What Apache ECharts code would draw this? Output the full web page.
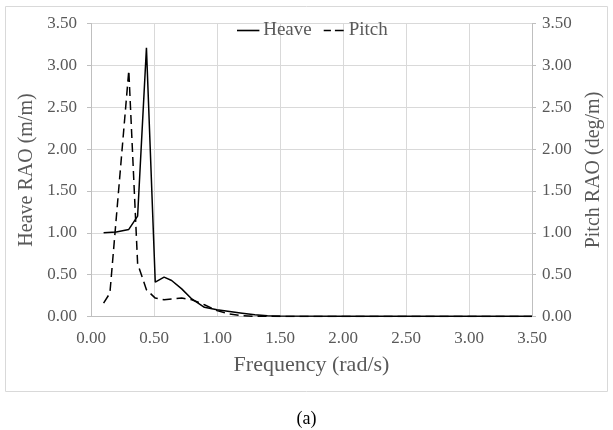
<!DOCTYPE html>
<html>
<head>
<meta charset="utf-8">
<script src="https://cdn.jsdelivr.net/npm/echarts@6/dist/echarts.min.js"></script>
<style>
html,body{margin:0;padding:0;background:#fff;}
#chart{width:613px;height:430px;}
</style>
</head>
<body>
<div id="chart"></div>
<script>
var heaveFreq = [0.10, 0.20, 0.30, 0.37, 0.44, 0.51, 0.58, 0.64, 0.72, 0.80, 0.90, 1.00, 1.10, 1.20, 1.30, 1.40, 1.50, 2.00, 2.50, 3.00, 3.50];
var heaveRAO  = [1.00, 1.01, 1.04, 1.20, 3.21, 0.41, 0.47, 0.43, 0.33, 0.21, 0.11, 0.08, 0.06, 0.04, 0.02, 0.01, 0.006, 0.004, 0.003, 0.002, 0.002];
var pitchFreq = [0.10, 0.15, 0.30, 0.37, 0.44, 0.51, 0.58, 0.65, 0.72, 0.80, 0.90, 1.00, 1.10, 1.20, 1.30, 1.50, 2.00, 2.50, 3.00, 3.50];
var pitchRAO  = [0.16, 0.28, 2.94, 0.63, 0.32, 0.22, 0.20, 0.21, 0.22, 0.20, 0.14, 0.07, 0.03, 0.01, 0.003, 0.001, 0.0, 0.0, 0.0, 0.0];
var xLabel = 'Frequency (rad/s)';
var yLeftLabel = 'Heave RAO (m/m)';
var yRightLabel = 'Pitch RAO (deg/m)';
var seriesNames = ['Heave', 'Pitch'];
var caption = '(a)';

function pairs(xs, ys){ return xs.map(function(x,i){ return [x, ys[i]]; }); }

var FONT = '"Liberation Serif", "Times New Roman", serif';
var GRAY = '#595959';
var chart = echarts.init(document.getElementById('chart'), null, {renderer:'canvas'});
var fmt = function(v){ return v.toFixed(2); };
var axisCommon = {
  min: 0, max: 3.5, interval: 0.5,
  axisLine: {show: true, lineStyle: {color: '#bfbfbf', width: 1}},
  axisTick: {show: true, length: 4, lineStyle: {color: '#bfbfbf'}},
  axisLabel: {color: GRAY, fontFamily: FONT, fontSize: 17, formatter: fmt},
  nameTextStyle: {color: GRAY, fontFamily: FONT, fontSize: 20},
  nameLocation: 'middle'
};
chart.setOption({
  animation: false,
  textStyle: {fontFamily: FONT},
  graphic: [{
    type: 'rect', silent: true, z: -1,
    shape: {x: 5.5, y: 6.5, width: 602, height: 385},
    style: {fill: 'none', stroke: '#d9d9d9', lineWidth: 1}
  }],
  title: {
    text: caption, left: 'center', top: 405,
    textStyle: {color: '#000', fontFamily: FONT, fontSize: 18, fontWeight: 'normal'}
  },
  legend: {
    top: 16, left: 232,
    itemWidth: 28, itemHeight: 1.6, itemGap: 12,
    textStyle: {color: GRAY, fontFamily: FONT, fontSize: 19, padding: [0, 0, 0, -4]},
    data: [
      {name: seriesNames[0], icon: 'path://M0,0H28V2H0Z', itemStyle: {color: '#000'}},
      {name: seriesNames[1], icon: 'path://M2,0H11V2H2ZM16,0H27V2H16Z', itemStyle: {color: '#000'}}
    ]
  },
  grid: {left: 91, right: 81, top: 23.5, bottom: 113.5, containLabel: false},
  xAxis: Object.assign({}, axisCommon, {
    type: 'value', name: xLabel, nameGap: 38,
    nameTextStyle: {color: GRAY, fontFamily: FONT, fontSize: 22},
    axisTick: {show: false},
    axisLabel: Object.assign({}, axisCommon.axisLabel, {margin: 14}),
    splitLine: {show: true, lineStyle: {color: '#d9d9d9', width: 1}}
  }),
  yAxis: [
    Object.assign({}, axisCommon, {
      type: 'value', position: 'left', name: yLeftLabel, nameGap: 49,
      axisLabel: Object.assign({}, axisCommon.axisLabel, {margin: 14}),
      splitLine: {show: true, lineStyle: {color: '#d9d9d9', width: 1}}
    }),
    Object.assign({}, axisCommon, {
      type: 'value', position: 'right', name: yRightLabel, nameGap: 52, nameRotate: 90,
      axisLabel: Object.assign({}, axisCommon.axisLabel, {margin: 10}),
      splitLine: {show: false}
    })
  ],
  series: [
    {
      name: seriesNames[0], type: 'line', yAxisIndex: 0, showSymbol: false, symbol: 'none',
      data: pairs(heaveFreq, heaveRAO),
      lineStyle: {color: '#000', width: 1.5, type: 'solid'},
      itemStyle: {color: '#000'}
    },
    {
      name: seriesNames[1], type: 'line', yAxisIndex: 1, showSymbol: false, symbol: 'none',
      data: pairs(pitchFreq, pitchRAO),
      lineStyle: {color: '#000', width: 1.5, type: [9, 5]},
      itemStyle: {color: '#000'}
    }
  ]
});
</script>
</body>
</html>
